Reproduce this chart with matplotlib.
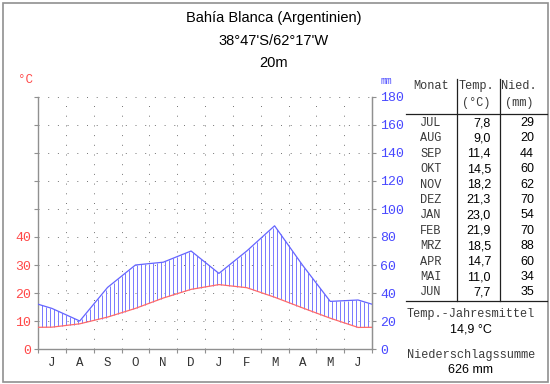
import matplotlib
matplotlib.use("Agg")
import matplotlib.pyplot as plt
from matplotlib.lines import Line2D
import numpy as np

# climate data, Bahia Blanca, July..June
months = ["J", "A", "S", "O", "N", "D", "J", "F", "M", "A", "M", "J"]
month_names = ["JUL", "AUG", "SEP", "OKT", "NOV", "DEZ", "JAN", "FEB", "MRZ", "APR", "MAI", "JUN"]
temp = [7.8, 9.0, 11.4, 14.5, 18.2, 21.3, 23.0, 21.9, 18.5, 14.7, 11.0, 7.7]
prec = [29, 20, 44, 60, 62, 70, 54, 70, 88, 60, 34, 35]
temp_mean = "14,9 °C"
prec_sum = "626 mm"
title_lines = ["Bahía Blanca (Argentinien)", "38°47'S/62°17'W", "20m"]

RED = "#ff4848"
BLUE = "#4848ff"
W, H = 550, 384
mono = "Liberation Mono"
sans = "Liberation Sans"

fig = plt.figure(figsize=(W / 100, H / 100), dpi=100)

def px(x, y):
    return x / W, 1 - y / H

# plot area
x0, x1, ytop, ybot = 38, 372, 97, 349
ax = fig.add_axes([x0 / W, 1 - ybot / H, (x1 - x0) / W, (ybot - ytop) / H])
ax.set_xlim(0, 12)
ax.set_ylim(0, 90)

# line through month centres, closed at the edges with the Jun/Jul mean
t = np.array(temp)
p = np.array(prec) / 2.0  # 20 mm = 10 degC
xc = np.arange(12) + 0.5
xe = np.concatenate([[0], xc, [12]])
te = np.concatenate([[(t[0] + t[-1]) / 2], t, [(t[0] + t[-1]) / 2]])
pe = np.concatenate([[(p[0] + p[-1]) / 2], p, [(p[0] + p[-1]) / 2]])

# grid (1px dots, 7px apart)
grid = dict(color="#7a7a7a", lw=0.72, ls=(0, (1, 8.7)), zorder=1)
for yv in range(10, 100, 10):
    ax.plot([0, 12], [yv, yv], **grid)
for xv in range(1, 12):
    ax.plot([xv, xv], [0, 90], **grid)

# humid hatching
xs = np.linspace(0, 12, 85)
ti = np.interp(xs, xe, te)
pi = np.interp(xs, xe, pe)
humid = pi > ti
ax.vlines(xs[humid], ti[humid], pi[humid], color="#7c7cff", lw=0.72, zorder=2)

ax.plot(xe, pe, color="#6464ff", lw=0.9, zorder=3)
ax.plot(xe, te, color="#ff6a6a", lw=0.9, zorder=3)

ax.spines["top"].set_visible(False)
for s in ["left", "right", "bottom"]:
    ax.spines[s].set_color("#909090")
    ax.spines[s].set_linewidth(1.0)

ax.set_xticks(range(13))
ax.set_xticklabels([])
ax.set_xticks(xc, minor=True)
ax.set_xticklabels(months, minor=True, family=mono, fontsize=9, color="#333333")
ax.tick_params(axis="x", which="major", length=3, color="#909090", direction="out")
ax.tick_params(axis="x", which="minor", length=0, pad=6)

ax.set_yticks(range(0, 100, 10))
ax.set_yticklabels([str(v) if v <= 40 else "" for v in range(0, 100, 10)],
                   family=mono, fontsize=9.5, color=RED)
ax.tick_params(axis="y", length=3, color="#909090", pad=2)

ax2 = ax.twinx()
ax2.set_ylim(0, 180)
ax2.set_yticks(range(0, 200, 20))
ax2.set_yticklabels([str(v) for v in range(0, 200, 20)], family=mono, fontsize=9.5, color=BLUE)
ax2.tick_params(axis="y", length=3, color="#909090", pad=3)
for s in ["top", "left", "bottom"]:
    ax2.spines[s].set_visible(False)
ax2.spines["right"].set_color("#909090")

fig.text(*px(25, 80), "°C", family=mono, fontsize=9, color=RED, ha="center", va="center")
fig.text(*px(386, 81), "mm", family=mono, fontsize=7, color=BLUE, ha="center", va="center")

# title
for txt, yy in zip(title_lines, [18, 41, 63]):
    fig.text(*px(274, yy), txt, family=sans, fontsize=10.5, ha="center", va="center")

# table
def hline(y, xa, xb):
    fig.add_artist(Line2D([xa / W, xb / W], [1 - y / H, 1 - y / H], color="#202020", lw=0.9))

def vline(x, ya, yb):
    fig.add_artist(Line2D([x / W, x / W], [1 - ya / H, 1 - yb / H], color="#202020", lw=0.9))

vline(457, 79, 301)
vline(500, 79, 301)
hline(114, 406, 547)
hline(301, 406, 547)

hdr = dict(family=mono, fontsize=8.6, color="#3a3a3a", ha="center", va="center")
fig.text(*px(431, 86), "Monat", **hdr)
fig.text(*px(476, 86), "Temp.", **hdr)
fig.text(*px(476, 103), "(°C)", **hdr)
fig.text(*px(519, 86), "Nied.", **hdr)
fig.text(*px(519, 103), "(mm)", **hdr)

for i in range(12):
    yy = 123 + i * 15.4
    fig.text(*px(431, yy), month_names[i], **hdr)
    fig.text(*px(491, yy), f"{temp[i]:.1f}".replace(".", ","), family=sans, fontsize=9,
             ha="right", va="center")
    fig.text(*px(534, yy), str(prec[i]), family=sans, fontsize=9, ha="right", va="center")

fig.text(*px(471, 314), "Temp.-Jahresmittel", **hdr)
fig.text(*px(471, 330), temp_mean, family=sans, fontsize=9, ha="center", va="center")
fig.text(*px(471, 355), "Niederschlagssumme", **hdr)
fig.text(*px(471, 370), prec_sum, family=sans, fontsize=9, ha="center", va="center")

# outer frame
fig.add_artist(plt.Rectangle((2.5 / W, 2.5 / H), 545 / W, 379 / H, fill=False,
                             edgecolor="#909090", lw=1.2, transform=fig.transFigure))

fig.savefig("out.png", dpi=100)
